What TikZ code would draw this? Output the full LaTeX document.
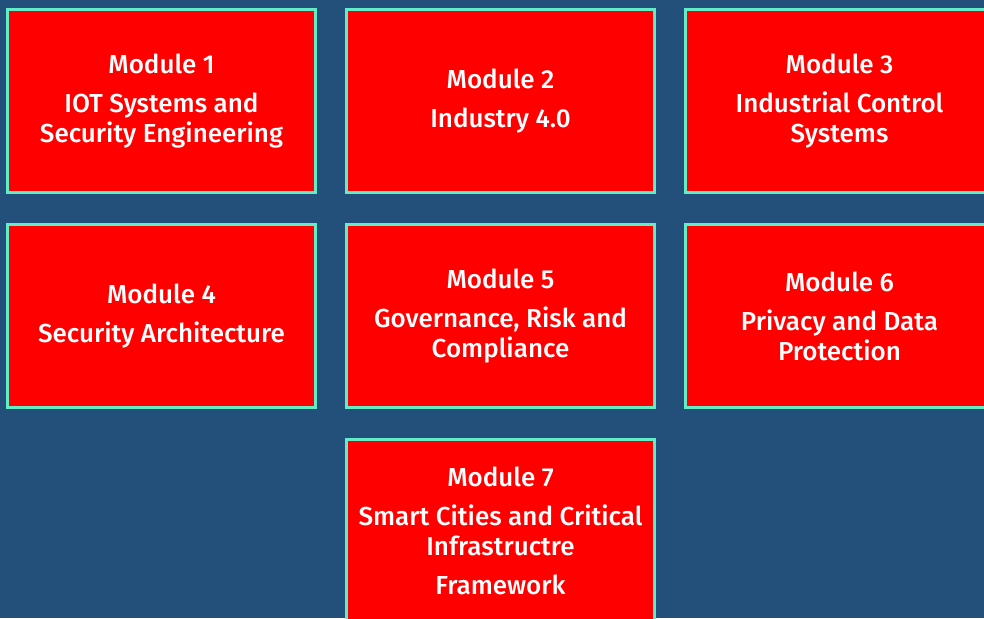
\documentclass[tikz,border=0pt]{standalone}
\usepackage{fontspec}
\setmainfont{Fira Sans Medium}
\usetikzlibrary{positioning}
\definecolor{bgblue}{RGB}{34,80,122}
\definecolor{modred}{RGB}{255,0,0}
\definecolor{modedge}{RGB}{98,236,200}

\begin{document}
\begin{tikzpicture}[x=1pt,y=1pt,node distance=29pt and 28pt,
  mod box/.style={rectangle,fill=modred,draw=modedge,line width=3pt,
    minimum width=308pt,minimum height=183pt,inner sep=0pt,
    align=center,text=white,font=\fontsize{26}{30}\selectfont}]
  \fill[bgblue] (0,0) rectangle (984,-618);
  \useasboundingbox (0,0) rectangle (984,-618);
  \node[mod box] (m1) at (161.5,-101) {Module 1\\[9pt]IOT Systems and\\Security Engineering};
  \node[mod box] (m2) [right=of m1] {Module 2\\[9pt]Industry 4.0};
  \node[mod box] (m3) [right=of m2] {Module 3\\[9pt]Industrial Control\\Systems};
  \node[mod box] (m4) [below=of m1] {Module 4\\[9pt]Security Architecture};
  \node[mod box] (m5) [below=of m2] {Module 5\\[9pt]Governance, Risk and\\Compliance};
  \node[mod box] (m6) [below=of m3] {Module 6\\[9pt]Privacy and Data\\Protection};
  \node[mod box] (m7) [below=of m5] {Module 7\\[9pt]Smart Cities and Critical\\Infrastructre\\[9pt]Framework};
\end{tikzpicture}
\end{document}
